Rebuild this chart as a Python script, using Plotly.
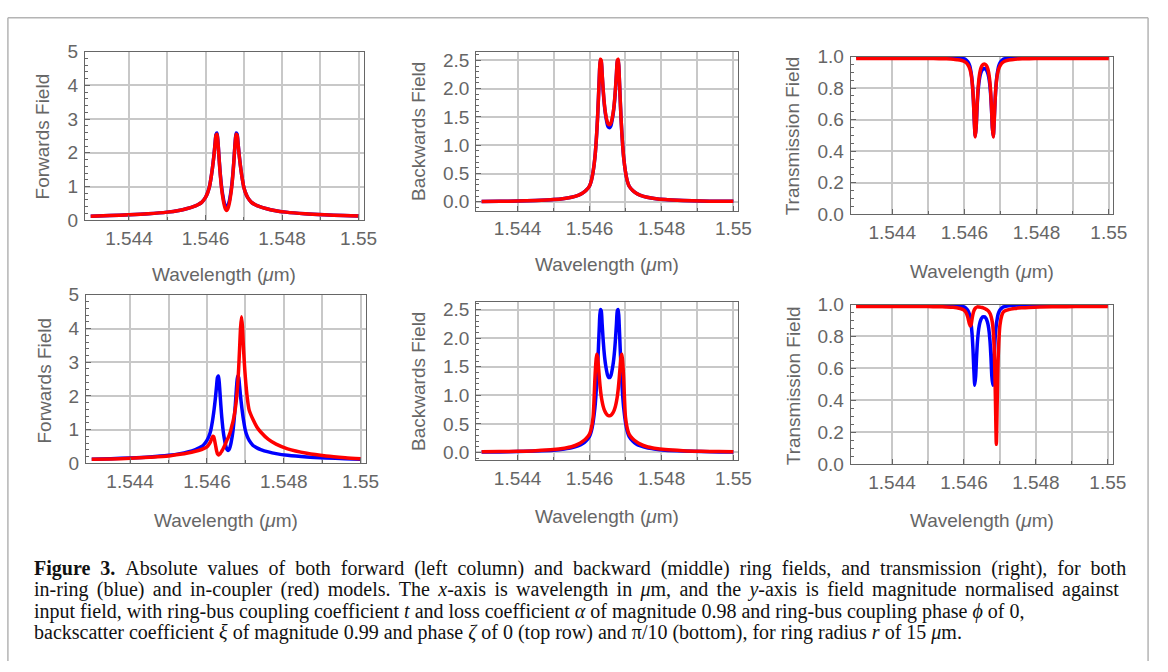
import plotly.graph_objects as go

# wavelength grid in micrometres, denser around the split resonance
wavelength_um = [
    1.5430, 1.5435, 1.5440, 1.5445, 1.5450, 1.5453, 1.5455, 1.5457, 1.5458, 1.5459,
    1.54600, 1.54605, 1.54610,
    1.546150, 1.546175, 1.546200, 1.546225, 1.546250, 1.546275, 1.546300, 1.546325,
    1.546350, 1.546375, 1.546400, 1.546425, 1.546450, 1.546475, 1.546500, 1.546525,
    1.546550,
    1.546575, 1.546600, 1.546625, 1.546650, 1.546675, 1.546700, 1.546725, 1.546750,
    1.546775, 1.546800, 1.546825, 1.546850, 1.546875, 1.546900, 1.546925, 1.546950,
    1.54700, 1.54705, 1.54710,
    1.5472, 1.5473, 1.5474, 1.5476, 1.5478, 1.5481, 1.5486, 1.5491, 1.5496, 1.5500,
]

# in-ring model (blue), same in both rows
forward_ring = [
    0.12, 0.14, 0.16, 0.19, 0.24, 0.29, 0.34, 0.41, 0.46, 0.53,
    0.68, 0.80, 0.98,
    1.30, 1.50, 1.73, 1.99, 2.29, 2.55, 2.59, 2.33,
    1.92, 1.52, 1.20, 0.94, 0.75, 0.59, 0.48, 0.41,
    0.38,
    0.41, 0.48, 0.59, 0.75, 0.94, 1.20, 1.52, 1.92,
    2.33, 2.59, 2.55, 2.29, 1.99, 1.73, 1.50, 1.30,
    0.98, 0.80, 0.68,
    0.53, 0.46, 0.41, 0.34, 0.29, 0.24, 0.19, 0.16, 0.14, 0.125,
]
backward_ring = [
    0.007, 0.01, 0.015, 0.025, 0.04, 0.06, 0.08, 0.12, 0.15, 0.20,
    0.28, 0.37, 0.53,
    0.78, 0.97, 1.21, 1.50, 1.86, 2.24, 2.50, 2.48,
    2.26, 2.01, 1.80, 1.64, 1.52, 1.43, 1.355, 1.32,
    1.31,
    1.32, 1.355, 1.43, 1.52, 1.64, 1.80, 2.01, 2.26,
    2.48, 2.50, 2.24, 1.86, 1.50, 1.21, 0.97, 0.78,
    0.53, 0.37, 0.28,
    0.20, 0.15, 0.12, 0.08, 0.06, 0.04, 0.025, 0.015, 0.01, 0.008,
]
transmission_ring = [
    1.0, 1.0, 0.999, 0.999, 0.998, 0.998, 0.997, 0.995, 0.993, 0.99,
    0.985, 0.977, 0.965,
    0.94, 0.912, 0.875, 0.816, 0.721, 0.589, 0.495, 0.55,
    0.67, 0.767, 0.829, 0.868, 0.892, 0.908, 0.917, 0.923,
    0.924,
    0.923, 0.917, 0.908, 0.892, 0.868, 0.829, 0.767, 0.67,
    0.55, 0.495, 0.589, 0.721, 0.816, 0.875, 0.912, 0.94,
    0.965, 0.977, 0.985,
    0.99, 0.993, 0.995, 0.997, 0.998, 0.998, 0.999, 0.999, 1.0, 1.0,
]

# in-coupler model (red), backscatter phase 0 (top row)
forward_coupler_top = [
    0.12, 0.14, 0.16, 0.19, 0.24, 0.29, 0.34, 0.41, 0.46, 0.53,
    0.68, 0.80, 0.98,
    1.30, 1.50, 1.72, 1.97, 2.27, 2.52, 2.55, 2.31,
    1.90, 1.49, 1.16, 0.89, 0.69, 0.52, 0.40, 0.32,
    0.29,
    0.32, 0.40, 0.52, 0.69, 0.89, 1.16, 1.49, 1.90,
    2.31, 2.55, 2.52, 2.27, 1.97, 1.72, 1.50, 1.30,
    0.98, 0.80, 0.68,
    0.53, 0.46, 0.41, 0.34, 0.29, 0.24, 0.19, 0.16, 0.14, 0.125,
]
backward_coupler_top = [
    0.007, 0.01, 0.015, 0.025, 0.04, 0.06, 0.08, 0.12, 0.15, 0.20,
    0.28, 0.37, 0.53,
    0.78, 0.97, 1.21, 1.50, 1.86, 2.25, 2.52, 2.50,
    2.28, 2.03, 1.82, 1.66, 1.545, 1.46, 1.40, 1.37,
    1.36,
    1.37, 1.40, 1.46, 1.545, 1.66, 1.82, 2.03, 2.28,
    2.50, 2.52, 2.25, 1.86, 1.50, 1.21, 0.97, 0.78,
    0.53, 0.37, 0.28,
    0.20, 0.15, 0.12, 0.08, 0.06, 0.04, 0.025, 0.015, 0.01, 0.008,
]
transmission_coupler_top = [
    0.988, 0.988, 0.988, 0.987, 0.987, 0.986, 0.985, 0.983, 0.980, 0.976,
    0.968, 0.960, 0.946,
    0.922, 0.90, 0.866, 0.81, 0.72, 0.585, 0.49, 0.55,
    0.68, 0.785, 0.853, 0.895, 0.921, 0.937, 0.946, 0.951,
    0.952,
    0.951, 0.946, 0.937, 0.921, 0.895, 0.853, 0.785, 0.68,
    0.55, 0.49, 0.585, 0.72, 0.81, 0.866, 0.90, 0.922,
    0.946, 0.960, 0.968,
    0.976, 0.980, 0.983, 0.985, 0.986, 0.987, 0.987, 0.988, 0.988, 0.988,
]

# in-coupler model (red), backscatter phase pi/10 (bottom row)
forward_coupler_bottom = [
    0.12, 0.13, 0.15, 0.18, 0.22, 0.27, 0.31, 0.36, 0.39, 0.43,
    0.49, 0.56, 0.66,
    0.80, 0.79, 0.68, 0.53, 0.38, 0.28, 0.25, 0.27,
    0.30, 0.34, 0.39, 0.44, 0.50, 0.56, 0.63, 0.70,
    0.75,
    0.82, 0.90, 1.00, 1.12, 1.22, 1.36, 1.52, 1.72,
    1.98, 2.32, 2.80, 3.40, 4.02, 4.35, 4.05, 3.45,
    2.55, 1.95, 1.58,
    1.30, 1.08, 0.93, 0.71, 0.57, 0.43, 0.30, 0.22, 0.17, 0.14,
]
backward_coupler_bottom = [
    0.012, 0.015, 0.02, 0.03, 0.05, 0.075, 0.10, 0.15, 0.19, 0.24,
    0.32, 0.42, 0.62,
    1.29, 1.56, 1.72, 1.67, 1.49, 1.29, 1.12, 0.99,
    0.895, 0.82, 0.766, 0.724, 0.693, 0.67, 0.654, 0.645,
    0.642,
    0.645, 0.654, 0.67, 0.693, 0.724, 0.766, 0.82, 0.895,
    0.99, 1.12, 1.29, 1.49, 1.67, 1.72, 1.56, 1.29,
    0.62, 0.42, 0.32,
    0.24, 0.19, 0.15, 0.10, 0.075, 0.05, 0.03, 0.02, 0.015, 0.012,
]
transmission_coupler_bottom = [
    0.988, 0.988, 0.988, 0.987, 0.987, 0.986, 0.985, 0.983, 0.980, 0.975,
    0.965, 0.952, 0.925,
    0.88, 0.865, 0.875, 0.91, 0.94, 0.96, 0.972, 0.979,
    0.983, 0.985, 0.985, 0.984, 0.983, 0.982, 0.981, 0.980,
    0.978,
    0.975, 0.972, 0.969, 0.965, 0.96, 0.953, 0.943, 0.928,
    0.905, 0.87, 0.80, 0.66, 0.40, 0.125, 0.40, 0.66,
    0.87, 0.93, 0.955,
    0.965, 0.971, 0.975, 0.979, 0.982, 0.985, 0.986, 0.987, 0.988, 0.988,
]

x_tick_vals = [1.544, 1.546, 1.548, 1.55]
x_tick_text = ["1.544", "1.546", "1.548", "1.55"]

caption_lines = [
    "<b>Figure 3.</b> Absolute values of both forward (left column) and backward (middle) ring fields, and transmission (right), for both",
    "in-ring (blue) and in-coupler (red) models. The <i>x</i>-axis is wavelength in <i>μ</i>m, and the <i>y</i>-axis is field magnitude normalised against",
    "input field, with ring-bus coupling coefficient <i>t</i> and loss coefficient <i>α</i> of magnitude 0.98 and ring-bus coupling phase <i>ϕ</i> of 0,",
    "backscatter coefficient <i>ξ</i> of magnitude 0.99 and phase <i>ζ</i> of 0 (top row) and π/10 (bottom), for ring radius <i>r</i> of 15 <i>μ</i>m.",
]
# extra word spacing so the first two lines look justified like the printed caption
caption_gaps = [" \u2005", " \u2006", " ", " "]

W, H = 1168, 672
SANS = "Liberation Sans"
GREY = "#666666"
GRID = "#c8c8c8"


def fx(px):
    return px / W


def fy(py):
    return 1 - py / H


def spread(line, gap):
    # widen only the spaces outside html tags
    out, in_tag = [], False
    for ch in line:
        if ch == "<":
            in_tag = True
        elif ch == ">":
            in_tag = False
        out.append(gap if (ch == " " and not in_tag) else ch)
    return "".join(out)


# panel boxes in window pixels: x0, x1, y0, y1, y range, y ticks, fmt, minor step, y title, title x, title y, xtitle y
panels = [
    (86, 368, 43, 217, [0, 5], [0, 1, 2, 3, 4, 5], "{:.0f}", 0.2, "Forwards Field", 43, 130, 273,
     forward_ring, forward_coupler_top),
    (482, 747, 43, 207, [-0.154, 2.654], [0, 0.5, 1, 1.5, 2, 2.5], "{:.1f}", 0.1, "Backwards Field", 423, 125, 263,
     backward_ring, backward_coupler_top),
    (861, 1127, 48, 211, [0, 1], [0, 0.2, 0.4, 0.6, 0.8, 1.0], "{:.1f}", 0.05, "Transmission Field", 803, 130, 270,
     transmission_ring, transmission_coupler_top),
    (87, 370, 294, 468, [0, 5], [0, 1, 2, 3, 4, 5], "{:.0f}", 0.2, "Forwards Field", 45, 382, 527,
     forward_ring, forward_coupler_bottom),
    (482, 747, 301, 465, [-0.14, 2.64], [0, 0.5, 1, 1.5, 2, 2.5], "{:.1f}", 0.1, "Backwards Field", 423, 383, 523,
     backward_ring, backward_coupler_bottom),
    (861, 1126, 304, 469, [0, 1], [0, 0.2, 0.4, 0.6, 0.8, 1.0], "{:.1f}", 0.05, "Transmission Field", 803, 388, 527,
     transmission_ring, transmission_coupler_bottom),
]

fig = go.Figure()
annotations = []
layout_axes = {}

for i, (x0, x1, y0, y1, yrange, yticks, yfmt, yminor, ytitle, tx, ty, xty, blue, red) in enumerate(panels, start=1):
    xa = "x" if i == 1 else f"x{i}"
    ya = "y" if i == 1 else f"y{i}"
    fig.add_trace(go.Scatter(x=wavelength_um, y=blue, xaxis=xa, yaxis=ya, mode="lines",
                             line=dict(color="#0000ff", width=3.5, shape="spline", smoothing=0.7),
                             showlegend=False, hoverinfo="skip"))
    fig.add_trace(go.Scatter(x=wavelength_um, y=red, xaxis=xa, yaxis=ya, mode="lines",
                             line=dict(color="#ff0000", width=3.5, shape="spline", smoothing=0.7),
                             showlegend=False, hoverinfo="skip"))

    layout_axes["xaxis" if i == 1 else f"xaxis{i}"] = dict(
        domain=[fx(x0), fx(x1)], anchor=ya, range=[1.54285, 1.55013],
        tickmode="array", tickvals=x_tick_vals, ticktext=x_tick_text,
        showgrid=True, gridcolor=GRID, gridwidth=1.5, zeroline=False,
        showline=True, mirror=True, linecolor=GREY, linewidth=1,
        ticks="inside", ticklen=5, tickcolor=GREY, ticklabelstandoff=1,
        tickfont=dict(family=SANS, size=19, color=GREY),
        minor=dict(tickmode="array", tickvals=[1.545, 1.547, 1.549], showgrid=True,
                   gridcolor=GRID, gridwidth=1.5, ticks="inside", ticklen=3, tickcolor=GREY),
    )
    layout_axes["yaxis" if i == 1 else f"yaxis{i}"] = dict(
        domain=[fy(y1), fy(y0)], anchor=xa, range=yrange,
        tickmode="array", tickvals=yticks, ticktext=[yfmt.format(v) for v in yticks],
        showgrid=True, gridcolor=GRID, gridwidth=1.5, zeroline=False,
        showline=True, mirror=True, linecolor=GREY, linewidth=1,
        ticks="inside", ticklen=5, tickcolor=GREY, ticklabelstandoff=2,
        tickfont=dict(family=SANS, size=19, color=GREY),
        minor=dict(tickmode="linear", tick0=0, dtick=yminor, ticks="inside", ticklen=3,
                   tickcolor=GREY, showgrid=False),
    )

    annotations.append(dict(x=fx((x0 + x1) / 2), y=fy(xty), xref="paper", yref="paper",
                            text="Wavelength (<i>μ</i>m)", showarrow=False, xanchor="center", yanchor="middle",
                            font=dict(family=SANS, size=19, color=GREY)))
    annotations.append(dict(x=fx(tx), y=fy(ty), xref="paper", yref="paper", text=ytitle,
                            textangle=-90, showarrow=False, xanchor="center", yanchor="middle",
                            font=dict(family=SANS, size=19, color=GREY)))

caption_y = [576, 598.5, 621, 643]
for line, gap, cy in zip(caption_lines, caption_gaps, caption_y):
    annotations.append(dict(x=fx(32), y=fy(cy), xref="paper", yref="paper", text=spread(line, gap),
                            showarrow=False, xanchor="left", yanchor="middle",
                            font=dict(family="Liberation Serif", size=20, color="#111111")))

# light frame around the whole figure
frame = dict(color="#b4b4b4", width=1.5)
shapes = [
    dict(type="line", xref="paper", yref="paper", x0=fx(8), x1=fx(8), y0=0, y1=fy(8), line=frame),
    dict(type="line", xref="paper", yref="paper", x0=fx(8), x1=fx(1162), y0=fy(8), y1=fy(8), line=frame),
    dict(type="line", xref="paper", yref="paper", x0=fx(1162), x1=fx(1162), y0=0, y1=fy(8), line=frame),
]

fig.update_layout(
    width=W, height=H, margin=dict(l=0, r=0, t=0, b=0),
    paper_bgcolor="white", plot_bgcolor="white",
    annotations=annotations, shapes=shapes, showlegend=False,
    **layout_axes,
)

# no page margin, and let the figure fill whatever the visible window is
fill_window = (
    "document.body.style.margin='0px';"
    "document.body.style.overflow='hidden';"
    "var gd=document.getElementById('{plot_id}');"
    "Plotly.relayout(gd,{width:window.innerWidth,height:window.innerHeight});"
)
fig.write_html("out.html", config={"displayModeBar": False}, post_script=fill_window)
